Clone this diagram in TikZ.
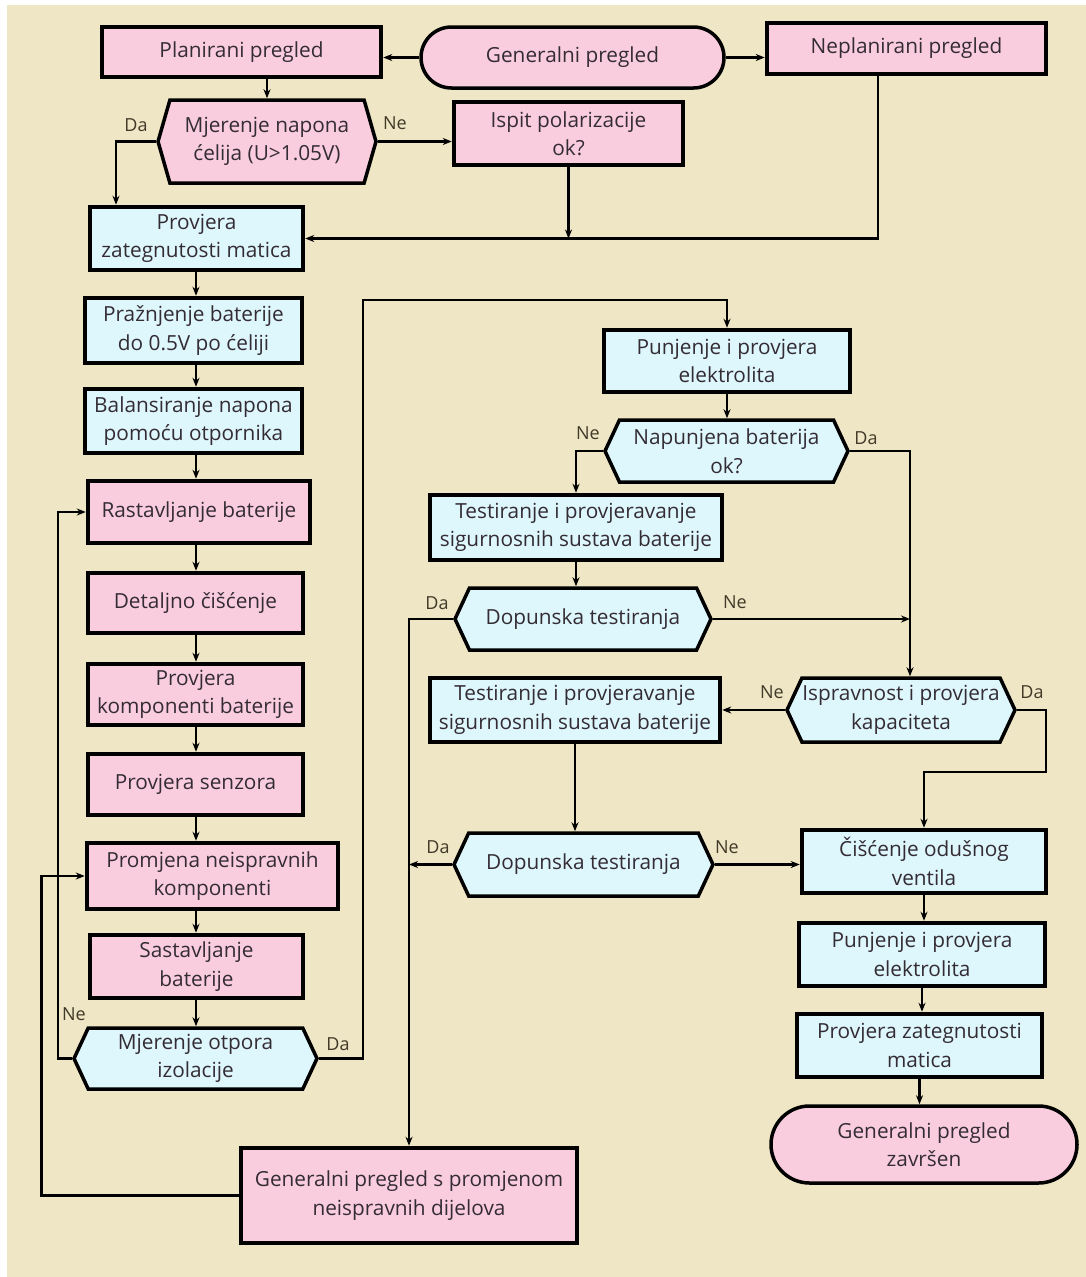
\documentclass[tikz,border=0pt]{standalone}
\usepackage{fontspec}
\setmainfont{Open Sans}
\usetikzlibrary{shapes.misc,shapes.symbols,arrows.meta,calc}
\definecolor{bgbeige}{RGB}{238,230,197}
\definecolor{boxpink}{RGB}{250,205,222}
\definecolor{boxcyan}{RGB}{222,247,252}
\definecolor{txt}{RGB}{52,44,52}
\definecolor{lbl}{RGB}{66,58,40}
\begin{document}
\begin{tikzpicture}[x=1pt,y=-1pt,
  base/.style={inner sep=0pt, align=center, text=txt, font=\fontsize{20.8}{28.5}\selectfont},
  sz/.style 2 args={minimum width=#1pt, minimum height=#2pt},
  pinkbox/.style={base, rectangle, draw=black, line width=4.5pt, fill=boxpink},
  cyanbox/.style={base, rectangle, draw=black, line width=4.5pt, fill=boxcyan},
  pinkpill/.style={base, rounded rectangle, draw=black, line width=3.5pt, fill=boxpink},
  hexa/.style={base, signal, signal to=east and west, signal pointer angle=130, draw=black, line width=3.5pt},
  pinkhex/.style={hexa, fill=boxpink},
  cyanhex/.style={hexa, fill=boxcyan},
  lab/.style={inner sep=0pt, text=lbl, font=\fontsize{18}{18}\selectfont},
  arr/.style={line width=2.8pt, -{Stealth[length=9pt,width=7pt]}}
]
\useasboundingbox (0,0) rectangle (1086,1277);
\fill[white] (0,0) rectangle (1086,1277);
\fill[bgbeige] (7,5) rectangle (1086,1277);

% top row
\node[pinkpill, sz={303}{61}] (gen) at (572.5,57.5) {Generalni pregled};
\node[pinkbox, sz={279}{50}] (plan) at (241.5,52) {Planirani pregled};
\node[pinkbox, sz={279}{51}] (neplan) at (906.5,48.5) {Neplanirani pregled};
\node[pinkhex, sz={218}{83}, signal pointer angle=148] (m1) at (267,141.5) {Mjerenje napona\\ćelija (U>1.05V)};
\node[pinkbox, sz={229}{63}] (ispit) at (568.5,133.5) {Ispit polarizacije\\ok?};

% left column
\node[cyanbox, sz={213}{63}] (pzm) at (196.5,238.5) {Provjera\\zategnutosti matica};
\node[cyanbox, sz={217}{65}] (praz) at (193.5,330.5) {Pražnjenje baterije\\do 0.5V po ćeliji};
\node[cyanbox, sz={217}{64}] (bal) at (193.5,421) {Balansiranje napona\\pomoću otpornika};
\node[pinkbox, sz={222}{62}] (rast) at (199,512) {Rastavljanje baterije};
\node[pinkbox, sz={215}{60}] (det) at (195.5,603) {Detaljno čišćenje};
\node[pinkbox, sz={215}{61}] (pkomp) at (195.5,694.5) {Provjera\\komponenti baterije};
\node[pinkbox, sz={215}{61}] (psenz) at (195.5,784.5) {Provjera senzora};
\node[pinkbox, sz={251}{66}] (prom) at (212.5,876) {Promjena neispravnih\\komponenti};
\node[pinkbox, sz={213}{63}] (sast) at (196.5,966.5) {Sastavljanje\\baterije};
\node[cyanhex, sz={243}{61}] (motp) at (195.5,1058.5) {Mjerenje otpora\\izolacije};
\node[pinkbox, sz={336}{95}] (gsp) at (409,1195.5) {Generalni pregled s promjenom\\neispravnih dijelova};

% right part
\node[cyanbox, sz={246}{62}] (pun1) at (727,361) {Punjenje i provjera\\elektrolita};
\node[cyanhex, sz={243}{62}] (nap) at (726.5,451) {Napunjena baterija\\ok?};
\node[cyanbox, sz={292}{65}] (test1) at (576,527.5) {Testiranje i provjeravanje\\sigurnosnih sustava baterije};
\node[cyanhex, sz={256}{62}] (dop1) at (583,619) {Dopunska testiranja};
\node[cyanhex, sz={228}{64}] (isp) at (901,710) {Ispravnost i provjera\\kapaciteta};
\node[cyanbox, sz={290}{64}] (test2) at (575,710) {Testiranje i provjeravanje\\sigurnosnih sustava baterije};
\node[cyanhex, sz={259}{63}] (dop2) at (583.5,864.5) {Dopunska testiranja};
\node[cyanbox, sz={244}{63}] (cis) at (924,861.5) {Čišćenje odušnog\\ventila};
\node[cyanbox, sz={246}{63}] (pun2) at (922,954.5) {Punjenje i provjera\\elektrolita};
\node[cyanbox, sz={245}{63}] (pzm2) at (919.5,1045.5) {Provjera zategnutosti\\matica};
\node[pinkpill, sz={306}{77}] (kraj) at (924,1144.5) {Generalni pregled\\završen};

% labels
\node[lab] (l1) at (136,125) {Da};
\node[lab] (l2) at (395,123) {Ne};
\node[lab] (l3) at (588,433) {Ne};
\node[lab] (l4) at (866,438) {Da};
\node[lab] (l5) at (437,603) {Da};
\node[lab] (l6) at (735,602) {Ne};
\node[lab] (l7) at (772,692) {Ne};
\node[lab] (l8) at (1032,692) {Da};
\node[lab] (l9) at (438,847) {Da};
\node[lab] (l10) at (727,847) {Ne};
\node[lab] (l11) at (74,1014) {Ne};
\node[lab] (l12) at (338,1044) {Da};

% helper coordinates
\coordinate (colL) at (196,0);
\coordinate (xR) at (910,0);
\coordinate (topbend) at (363,300);
\coordinate (ispbend) at (1046,772);
\coordinate (nepx) at (878,0);
\coordinate (pzmin) at (116,0);

% connectors top
\draw[arr] (gen.west) -- (gen.west -| plan.east);
\draw[arr] (gen.east) -- (gen.east -| neplan.west);
\draw[arr] (m1.north |- plan.south) -- (m1.north);
\draw[arr] (m1.west) -- (m1.west -| pzmin) -- (pzmin |- pzm.north);
\draw[arr] (m1.east) -- (m1.east -| ispit.west);
\draw[arr] (ispit.south) -- (ispit.south |- pzm.east);
\draw[arr] (nepx |- neplan.south) |- (pzm.east);

% left column
\draw[arr] (colL |- pzm.south) -- (colL |- praz.north);
\draw[arr] (colL |- praz.south) -- (colL |- bal.north);
\draw[arr] (colL |- bal.south) -- (colL |- rast.north);
\draw[arr] (colL |- rast.south) -- (colL |- det.north);
\draw[arr] (colL |- det.south) -- (colL |- pkomp.north);
\draw[arr] (colL |- pkomp.south) -- (colL |- psenz.north);
\draw[arr] (colL |- psenz.south) -- (colL |- prom.north);
\draw[arr] (colL |- prom.south) -- (colL |- sast.north);
\draw[arr] (colL |- sast.south) -- (colL |- motp.north);
\draw[arr] (motp.west) -- ++(-14,0) |- (rast.west);
\draw[arr] (motp.east) -| (topbend) -| (pun1.north);
\draw[arr] (gsp.west) -- ++(-197,0) |- (prom.west);

% right part
\draw[arr] (pun1.south) -- (pun1.south |- nap.north);
\draw[arr] (nap.west) -| (test1.north);
\draw[arr] (nap.east) -| (xR |- isp.north);
\draw[arr] (test1.south) -- (test1.south |- dop1.north);
\draw[arr] (dop1.east) -- (dop1.east -| xR);
\draw[arr] (dop1.west) -| (gsp.north);
\draw[arr] (isp.west) -- (isp.west -| test2.east);
\draw[arr] (isp.east) -| (ispbend) -| (cis.north);
\draw[arr] (test2.south) -- (test2.south |- dop2.north);
\draw[arr] (dop2.west) -- (dop2.west -| gsp.north);
\draw[arr] (dop2.east) -- (dop2.east -| cis.west);
\draw[arr] (cis.south) -- (cis.south |- pun2.north);
\draw[arr] (pun2.south) -- (pun2.south |- pzm2.north);
\draw[arr] (pzm2.south) -- (pzm2.south |- kraj.north);
\end{tikzpicture}
\end{document}
